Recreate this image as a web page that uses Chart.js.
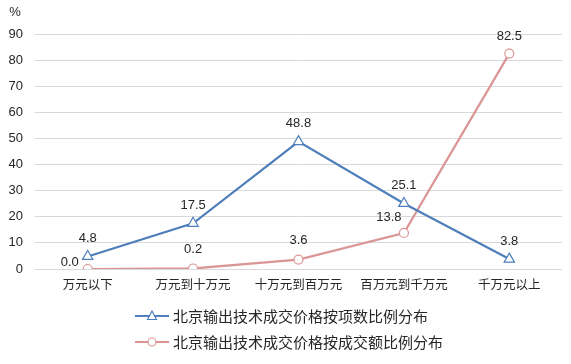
<!DOCTYPE html>
<html>
<head>
<meta charset="utf-8">
<script src="https://cdn.jsdelivr.net/npm/chart.js@4"></script>
<style>
  html, body { margin: 0; padding: 0; background: #fff; }
  #chart { display: block; }
</style>
</head>
<body>
<canvas id="chart" width="571" height="364"></canvas>
<script>
// Data
const categories = ['万元以下', '万元到十万元', '十万元到百万元', '百万元到千万元', '千万元以上'];
const countShare = [4.8, 17.5, 48.8, 25.1, 3.8];
const amountShare = [0.0, 0.2, 3.6, 13.8, 82.5];
const seriesNames = ['北京输出技术成交价格按项数比例分布', '北京输出技术成交价格按成交额比例分布'];

const BLUE = '#4f7fba';
const PINK = '#d99694';
const CJK = '"Noto Sans CJK SC", sans-serif';
const NUM = '"Liberation Sans", Arial, sans-serif';

// label offsets per series (dx, dy from point)
const labelOffsets = [
  [[0, -18], [0, -18], [0, -18], [0, -18], [0, -18]],
  [[-18, -7], [0, -19], [0, -19], [-15, -16], [0, -17]]
];

const labelsPlugin = {
  id: 'valueLabels',
  afterDatasetsDraw(chart) {
    const ctx = chart.ctx;
    ctx.save();
    ctx.font = '13px ' + NUM;
    ctx.fillStyle = '#262626';
    ctx.textAlign = 'center';
    ctx.textBaseline = 'middle';
    chart.data.datasets.forEach((ds, i) => {
      chart.getDatasetMeta(i).data.forEach((pt, j) => {
        const [dx, dy] = labelOffsets[i][j];
        ctx.fillText(ds.data[j].toFixed(1), pt.x + dx, pt.y + dy);
      });
    });
    // unit
    ctx.fillText('%', 15, 12);
    ctx.restore();
  }
};

const legendPlugin = {
  id: 'bottomLegend',
  afterDraw(chart) {
    const ctx = chart.ctx;
    ctx.save();
    const rows = [316, 342];
    chart.data.datasets.forEach((ds, i) => {
      const y = rows[i];
      ctx.strokeStyle = ds.borderColor;
      ctx.lineWidth = 2;
      ctx.beginPath();
      ctx.moveTo(135, y);
      ctx.lineTo(169, y);
      ctx.stroke();
      ctx.fillStyle = '#fff';
      ctx.beginPath();
      if (ds.pointStyle === 'triangle') {
        ctx.moveTo(152, y - 5);
        ctx.lineTo(156.5, y + 3.5);
        ctx.lineTo(147.5, y + 3.5);
        ctx.closePath();
      } else {
        ctx.arc(152, y, 4, 0, Math.PI * 2);
      }
      ctx.fill();
      ctx.lineWidth = 1.2;
      ctx.stroke();
      ctx.fillStyle = '#262626';
      ctx.font = '15px ' + CJK;
      ctx.textAlign = 'left';
      ctx.textBaseline = 'middle';
      ctx.fillText(ds.label, 173, y);
    });
    ctx.restore();
  }
};

new Chart(document.getElementById('chart'), {
  type: 'line',
  data: {
    labels: categories,
    datasets: [
      {
        label: seriesNames[0],
        data: countShare,
        borderColor: BLUE,
        backgroundColor: '#fff',
        borderWidth: 2.25,
        pointStyle: 'triangle',
        pointRadius: 6,
        pointBorderWidth: 1.2,
        pointBackgroundColor: '#fff',
        pointBorderColor: BLUE,
        tension: 0
      },
      {
        label: seriesNames[1],
        data: amountShare,
        borderColor: PINK,
        backgroundColor: '#fff',
        borderWidth: 2.25,
        pointStyle: 'circle',
        pointRadius: 4.5,
        pointBorderWidth: 1.2,
        pointBackgroundColor: '#fff',
        pointBorderColor: PINK,
        tension: 0
      }
    ]
  },
  options: {
    responsive: false,
    animation: false,
    layout: { padding: { top: 34, right: 9, bottom: 64, left: 0 } },
    plugins: {
      legend: { display: false },
      tooltip: { enabled: false }
    },
    scales: {
      x: {
        offset: true,
        grid: { display: false, drawTicks: false },
        border: { display: false },
        ticks: { font: { family: CJK, size: 12.5 }, color: '#262626', padding: 8, maxRotation: 0, autoSkip: false }
      },
      y: {
        min: 0,
        max: 90,
        ticks: { stepSize: 10, font: { family: NUM, size: 13 }, color: '#262626', padding: 12 },
        grid: { color: '#d9d9d9', lineWidth: 1, drawTicks: false },
        border: { display: false },
        afterFit(axis) { axis.width = 35; }
      }
    }
  },
  plugins: [labelsPlugin, legendPlugin]
});
</script>
</body>
</html>
